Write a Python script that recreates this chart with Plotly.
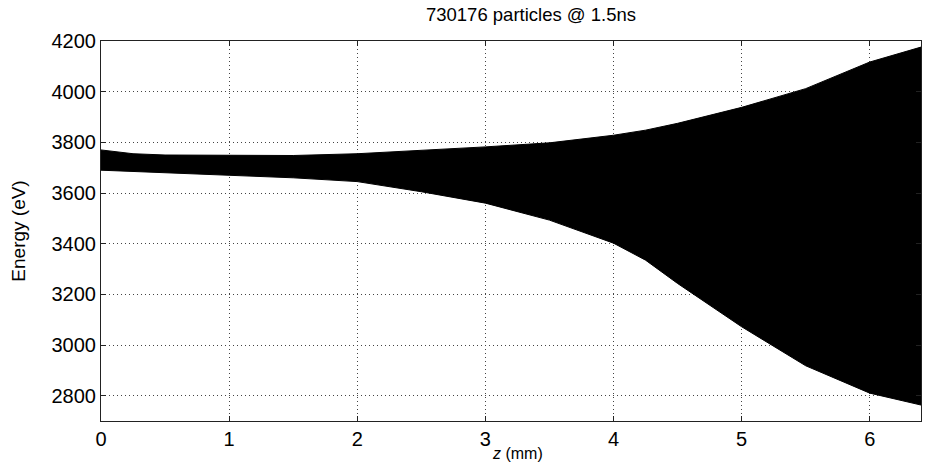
import plotly.graph_objects as go

# Envelope of the particle energy distribution
z_mm = [0.0, 0.25, 0.5, 1.0, 1.5, 2.0, 2.5, 3.0, 3.5, 4.0, 4.25, 4.5, 5.0, 5.5, 6.0, 6.4]
energy_upper = [3770, 3755, 3750, 3750, 3748, 3755, 3768, 3782, 3798, 3828, 3848, 3875, 3938, 4012, 4117, 4176]
energy_lower = [3690, 3685, 3680, 3670, 3660, 3645, 3605, 3560, 3493, 3402, 3335, 3243, 3072, 2918, 2810, 2763]

x_ticks = [0, 1, 2, 3, 4, 5, 6]
y_ticks = [2800, 3000, 3200, 3400, 3600, 3800, 4000, 4200]
title_text = "730176 particles @ 1.5ns"

poly_x = z_mm + z_mm[::-1]
poly_y = energy_upper + energy_lower[::-1]

fig = go.Figure()
fig.add_trace(go.Scatter(
    x=poly_x, y=poly_y, mode="lines", fill="toself",
    fillcolor="black", line=dict(color="black", width=1),
    showlegend=False, hoverinfo="skip",
))

font = "Liberation Sans, Arial, Helvetica, sans-serif"
axis_common = dict(
    showline=True, linecolor="#222222", linewidth=1, mirror="ticks",
    ticks="inside", ticklen=5, tickcolor="#222222",
    showgrid=True, gridcolor="#444444", griddash="1px,3px", gridwidth=1,
    zeroline=False, tickfont=dict(family=font, size=20, color="black"),
)

fig.update_layout(
    width=926, height=465,
    margin=dict(l=101, r=5, t=41, b=44),
    paper_bgcolor="white", plot_bgcolor="white",
    title=dict(text=title_text, x=(531 - 101) / 820, xref="paper", y=1 - 15 / 465, yref="container",
               yanchor="middle", xanchor="center",
               font=dict(family=font, size=18.5, color="black")),
    xaxis=dict(range=[0, 6.4], tickvals=x_ticks, ticktext=[str(t) for t in x_ticks],
               automargin=False, **axis_common),
    yaxis=dict(range=[2700, 4200], tickvals=y_ticks, ticktext=[str(t) for t in y_ticks],
               title=dict(text="Energy (eV)", standoff=20, font=dict(family=font, size=19, color="black")),
               automargin=False, **axis_common),
)

fig.add_annotation(
    text="<i>z</i> (mm)", xref="paper", yref="paper",
    x=(517 - 101) / 820, y=-(453 - 421) / 380, xanchor="center", yanchor="middle",
    showarrow=False, font=dict(family=font, size=16, color="black"),
)

fig.write_html("out.html")
